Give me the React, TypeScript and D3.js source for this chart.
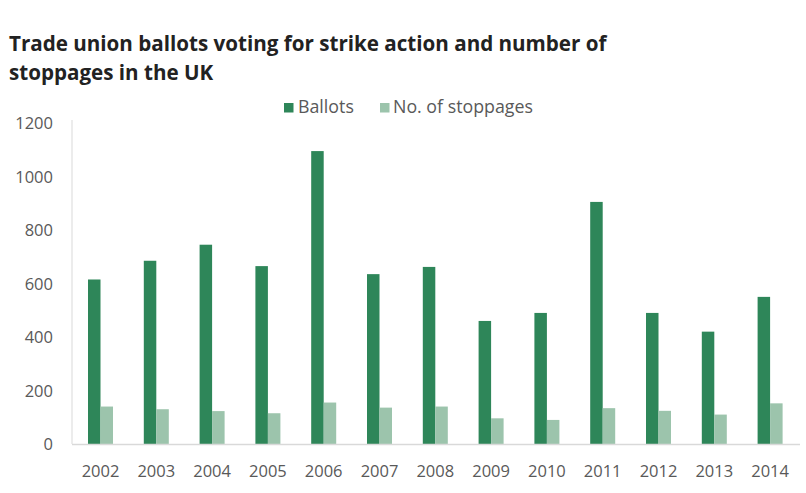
import React from "react";
import * as d3 from "d3";

const years = ["2002","2003","2004","2005","2006","2007","2008","2009","2010","2011","2012","2013","2014"];
const ballots = [615, 685, 745, 665, 1095, 635, 662, 460, 490, 905, 490, 420, 550];
const stoppages = [140, 130, 123, 115, 155, 136, 140, 96, 90, 134, 124, 110, 152];
const yTicks = [0, 200, 400, 600, 800, 1000, 1200];
const seriesNames = ["Ballots", "No. of stoppages"];
const seriesColors = ["#2e8659", "#9cc4ac"];
const titleLines = ["Trade union ballots voting for strike action and number of", "stoppages in the UK"];

const W = 806, H = 493;
const left = 72.6, right = 798, top = 123, bottom = 444;

export default function App() {
  const x = d3.scaleBand<string>().domain(years).range([left, right]).paddingInner(0.552).paddingOuter(0.276);
  const xs = d3.scaleBand<number>().domain([0, 1]).range([0, x.bandwidth()]);
  const y = d3.scaleLinear().domain([0, 1200]).range([bottom, top]);
  const series = [ballots, stoppages];
  const font = "'Open Sans', sans-serif";
  return (
    <svg width={W} height={H} style={{ position: "absolute", left: 0, top: 0, background: "#fff" }}>
      <rect x={0} y={0} width={W} height={H} fill="#fff" />
      {titleLines.map((t, i) => (
        <text key={i} x={9} y={51 + i * 29} fontFamily={font} fontWeight={700} fontSize={20.6} fill="#222">{t}</text>
      ))}
      {/* legend */}
      <g fontFamily={font} fontSize={17.8} fill="#595959">
        <rect x={284} y={103} width={9.5} height={9.5} fill={seriesColors[0]} />
        <text x={298} y={113}>{seriesNames[0]}</text>
        <rect x={380} y={103} width={9.5} height={9.5} fill={seriesColors[1]} />
        <text x={393} y={113}>{seriesNames[1]}</text>
      </g>
      {/* y axis */}
      <line x1={72} x2={72} y1={120} y2={bottom} stroke="#d9d9d9" strokeWidth={1} />
      <g fontFamily={font} fontSize={16.5} fill="#595959" textAnchor="end">
        {yTicks.map(t => (
          <text key={t} x={53} y={y(t) + 6}>{t}</text>
        ))}
      </g>
      {/* bars */}
      {series.map((vals, s) => (
        <g key={s} fill={seriesColors[s]}>
          {vals.map((v, i) => (
            <rect key={i} x={(x(years[i]) as number) + (xs(s) as number)} y={y(v)} width={xs.bandwidth()} height={y(0) - y(v)} />
          ))}
        </g>
      ))}
      <line x1={72} x2={800} y1={bottom + 0.5} y2={bottom + 0.5} stroke="#d9d9d9" strokeWidth={1.5} />
      <g fontFamily={font} fontSize={16.5} fill="#595959" textAnchor="middle">
        {years.map(yr => (
          <text key={yr} x={(x(yr) as number) + x.bandwidth() / 2} y={477}>{yr}</text>
        ))}
      </g>
    </svg>
  );
}
